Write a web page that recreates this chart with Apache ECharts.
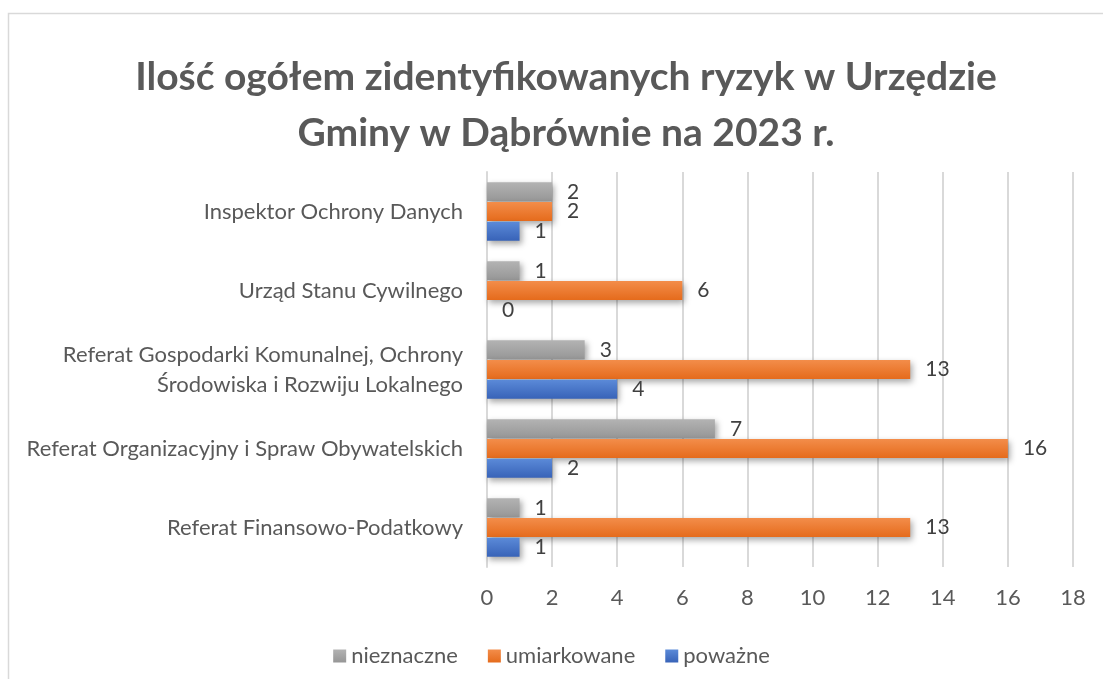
<!DOCTYPE html>
<html>
<head>
    <meta charset="utf-8">
    <title>Ilość ryzyk</title>
    <script src="https://cdn.jsdelivr.net/npm/echarts@6/dist/echarts.min.js"></script>
    <style>
        html, body { margin: 0; padding: 0; background: #fff; }
        #chart { width: 1103px; height: 679px; }
    </style>
</head>
<body>
    <div id="chart"></div>
    <script type="text/javascript">
        // kategorie od dołu do góry
        var categories = [
            'Referat Finansowo-Podatkowy',
            'Referat Organizacyjny i Spraw Obywatelskich',
            'Referat Gospodarki Komunalnej, Ochrony\nŚrodowiska i Rozwiju Lokalnego',
            'Urząd Stanu Cywilnego',
            'Inspektor Ochrony Danych'
        ];
        var powazne = [1, 2, 4, 0, 1];
        var umiarkowane = [13, 16, 13, 6, 2];
        var nieznaczne = [1, 7, 3, 1, 2];
        var xTicks = [0, 2, 4, 6, 8, 10, 12, 14, 16, 18];

        var FONT = 'Lato, "Open Sans", sans-serif';

        function grad(top, bottom) {
            return new echarts.graphic.LinearGradient(0, 0, 0, 1, [
                { offset: 0, color: top },
                { offset: 1, color: bottom }
            ]);
        }

        function barSeries(name, data, c1, c2) {
            return {
                name: name,
                type: 'bar',
                data: data,
                barGap: '4%',
                barCategoryGap: '26%',
                itemStyle: {
                    color: grad(c1, c2),
                    shadowBlur: 6,
                    shadowOffsetX: 2,
                    shadowOffsetY: 3,
                    shadowColor: 'rgba(0,0,0,0.35)'
                },
                label: {
                    show: true,
                    position: 'right',
                    distance: 15,
                    color: '#404040',
                    fontSize: 21,
                    fontFamily: FONT
                }
            };
        }

        var myChart = echarts.init(document.getElementById('chart'));
        var option = {
            backgroundColor: '#fff',
            animation: false,
            title: {
                text: 'Ilość ogółem zidentyfikowanych ryzyk w Urzędzie\nGminy w Dąbrównie na 2023 r.',
                left: 561,
                top: 44,
                textAlign: 'center',
                textStyle: {
                    fontFamily: FONT,
                    fontSize: 39,
                    fontWeight: 'bold',
                    color: '#595959',
                    lineHeight: 56
                }
            },
            graphic: [{
                type: 'rect',
                shape: { x: 8.5, y: 13.5, width: 1100, height: 700 },
                style: { fill: 'none', stroke: '#d9d9d9', lineWidth: 1.5 },
                silent: true
            }],
            legend: {
                data: ['nieznaczne', 'umiarkowane', 'poważne'],
                left: 'center',
                top: 640,
                itemWidth: 13,
                itemHeight: 13,
                itemGap: 30,
                icon: 'rect',
                textStyle: { fontFamily: FONT, fontSize: 22, color: '#595959' }
            },
            grid: {
                left: 487,
                right: 30,
                top: 172,
                bottom: 112,
                containLabel: false
            },
            xAxis: {
                type: 'value',
                min: xTicks[0],
                max: xTicks[xTicks.length - 1],
                interval: 2,
                axisLine: { show: false },
                axisTick: { show: false },
                splitLine: { lineStyle: { color: '#d9d9d9', width: 2 } },
                axisLabel: {
                    fontFamily: FONT,
                    fontSize: 22,
                    color: '#595959',
                    margin: 20
                }
            },
            yAxis: {
                type: 'category',
                data: categories,
                axisLine: { lineStyle: { color: '#d9d9d9', width: 2 } },
                axisTick: { show: false },
                axisLabel: {
                    fontFamily: FONT,
                    fontSize: 22,
                    color: '#595959',
                    margin: 24,
                    lineHeight: 30,
                    align: 'right'
                }
            },
            series: [
                barSeries('nieznaczne', nieznaczne, '#b3b3b3', '#969696'),
                barSeries('umiarkowane', umiarkowane, '#f38d4a', '#e56b1c'),
                barSeries('poważne', powazne, '#5b8ad8', '#3863b8')
            ]
        };
        myChart.setOption(option);
    </script>
</body>
</html>
